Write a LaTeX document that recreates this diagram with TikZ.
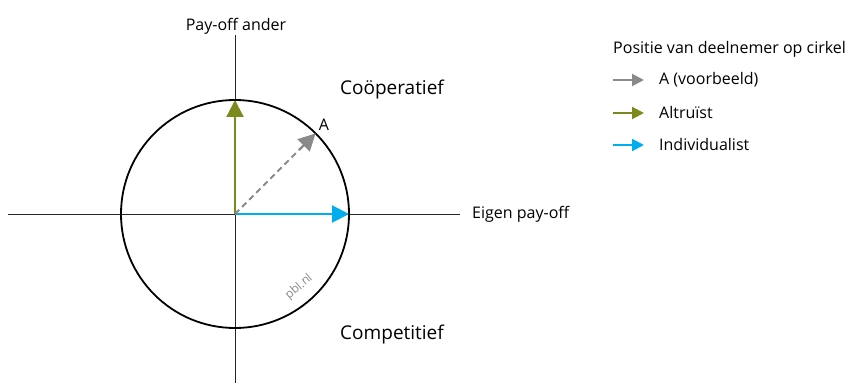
\documentclass[tikz,border=0pt]{standalone}
\usepackage{fontspec}
\setmainfont{Open Sans}
\usetikzlibrary{arrows.meta,calc}
\definecolor{olive}{HTML}{7C8A1C}
\definecolor{skyb}{HTML}{00AEEF}
\definecolor{grayA}{HTML}{8A8A8A}
\begin{document}
\begin{tikzpicture}[x=1pt,y=-1pt,
  axis/.style={draw=black!85,line width=0.8pt},
  vec/.style={line width=2.2pt,-{Triangle[length=17pt,width=17pt]}},
  legarrow/.style={line width=2pt,-{Triangle[length=12pt,width=12pt]}},
  lbl/.style={font=\fontsize{16}{19}\selectfont,inner sep=0pt},
  big/.style={font=\fontsize{19}{22}\selectfont,inner sep=0pt}]
\useasboundingbox (0,0) rectangle (852,385);
\coordinate (O) at (235,214);
\coordinate (axL) at (8,214);
\coordinate (axR) at (460,214);
\coordinate (axT) at (235,35);
\coordinate (axB) at (235,383);
\draw[axis] (axL) -- (axR);
\draw[axis] (axT) -- (axB);
\draw[line width=1.8pt] (O) circle[radius=114];
\coordinate (Top) at (235,100);
\coordinate (Rt) at (349,214);
\coordinate (Ad) at (315.6,133.4);
\draw[vec,olive] (O) -- (Top);
\draw[vec,skyb] (O) -- (Rt);
\draw[grayA,line width=2pt,dash pattern=on 6pt off 4pt] (O) -- ($(O)!0.82!(Ad)$);
\draw[vec,grayA] ($(O)!0.8!(Ad)$) -- (Ad);
\node[lbl,anchor=base] (pa) at (236,31) {Pay-off ander};
\node[lbl,anchor=west] (ep) at (472,214) {Eigen pay-off};
\node[lbl] (A) at (324,125) {A};
\node[big] (coop) at (392,90) {Coöperatief};
\node[big] (comp) at (392,335) {Competitief};
\node[font=\fontsize{12}{14}\selectfont,text=grayA,rotate=40,inner sep=0pt] (pbl) at (299,287) {pbl.nl};
\node[lbl,anchor=west] (lt) at (613,49) {Positie van deelnemer op cirkel};
\coordinate (l1a) at (613,80); \coordinate (l1b) at (644,80);
\coordinate (l2a) at (613,113); \coordinate (l2b) at (644,113);
\coordinate (l3a) at (613,145); \coordinate (l3b) at (644,145);
\draw[legarrow,grayA] (l1a) -- (l1b);
\draw[legarrow,olive] (l2a) -- (l2b);
\draw[legarrow,skyb] (l3a) -- (l3b);
\node[lbl,anchor=west] (t1) at (659,80) {A (voorbeeld)};
\node[lbl,anchor=west] (t2) at (659,113) {Altruïst};
\node[lbl,anchor=west] (t3) at (659,145) {Individualist};
\end{tikzpicture}
\end{document}
